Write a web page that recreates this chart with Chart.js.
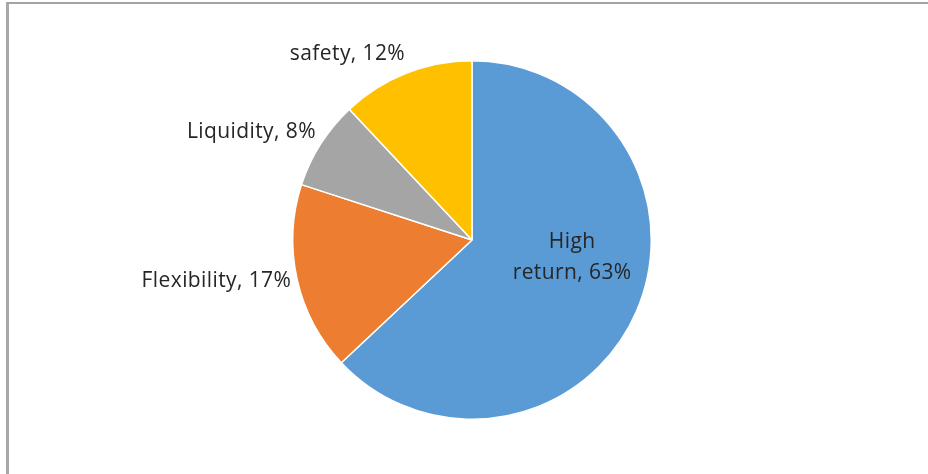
<!DOCTYPE html>
<html>
<head>
<meta charset="utf-8">
<script src="https://cdn.jsdelivr.net/npm/chart.js@4.4.1/dist/chart.umd.min.js"></script>
<style>
  html, body { margin: 0; padding: 0; background: #fff; }
  #wrap { position: relative; width: 928px; height: 474px; }
  #frame {
    position: absolute; left: 6px; top: 2px; right: 0; bottom: 0;
    border-top: 2px solid #a3a3a3; border-left: 3px solid #a8a8a8;
    pointer-events: none;
  }
  canvas { position: absolute; left: 0; top: 0; }
</style>
</head>
<body>
<div id="wrap">
  <canvas id="pieChart" width="928" height="474"></canvas>
  <div id="frame"></div>
</div>
<script>
// Chart data
const categories = [['High', 'return'], 'Flexibility', 'Liquidity', 'safety']
const shares = [63, 17, 8, 12]
const sliceColors = ['#5B9BD5', '#ED7D31', '#A5A5A5', '#FFC000']

const FONT = '21px "Open Sans", "Noto Sans", sans-serif'
const TEXT_COLOR = '#262626'

// Draws "name, NN%" labels, big slices inside, small ones outside
const pieLabels = {
  id: 'pieLabels',
  afterDatasetsDraw(chart) {
    const ctx = chart.ctx
    const meta = chart.getDatasetMeta(0)
    const total = shares.reduce((a, b) => a + b, 0)
    ctx.save()
    ctx.font = FONT
    ctx.letterSpacing = '0.4px'
    ctx.fillStyle = TEXT_COLOR
    ctx.textBaseline = 'middle'
    meta.data.forEach((arc, i) => {
      const p = arc.getProps(['x', 'y', 'startAngle', 'endAngle', 'outerRadius'], true)
      const mid = (p.startAngle + p.endAngle) / 2
      const dx = Math.cos(mid)
      const dy = Math.sin(mid)
      const pct = Math.round((shares[i] / total) * 100) + '%'
      const name = categories[i]
      let lines = Array.isArray(name) ? name.slice() : [name]
      lines[lines.length - 1] += ', ' + pct

      if (shares[i] / total >= 0.25) {
        // inside the slice, centred
        const lineH = 31
        const h = lines.length * lineH
        const r = p.outerRadius * 0.56
        const cx = p.x + dx * r + 8
        const cy = p.y + dy * r - 22
        ctx.textAlign = 'center'
        lines.forEach((ln, k) => {
          ctx.fillText(ln, cx, cy - h / 2 + lineH * (k + 0.5))
        })
      } else {
        const lineH = 22
        const h = lines.length * lineH
        const r = p.outerRadius + 8
        const px = p.x + dx * r + 2
        const py = p.y + dy * r - 2
        ctx.textAlign = dx < 0 ? 'right' : 'left'
        const top = py - ((1 - dy) / 2) * h
        lines.forEach((ln, k) => {
          ctx.fillText(ln, px, top + lineH * (k + 0.5))
        })
      }
    })
    ctx.restore()
  }
}

const chart = new Chart(document.getElementById('pieChart').getContext('2d'), {
  type: 'pie',
  data: {
    labels: categories,
    datasets: [
      {
        data: shares,
        backgroundColor: sliceColors,
        borderColor: '#ffffff',
        borderWidth: 1.5
      }
    ]
  },
  options: {
    responsive: false,
    animation: false,
    layout: {
      padding: { top: 60, bottom: 54, left: 100, right: 84 }
    },
    plugins: {
      legend: { display: false },
      tooltip: { enabled: false }
    }
  },
  plugins: [pieLabels]
})
</script>
</body>
</html>
